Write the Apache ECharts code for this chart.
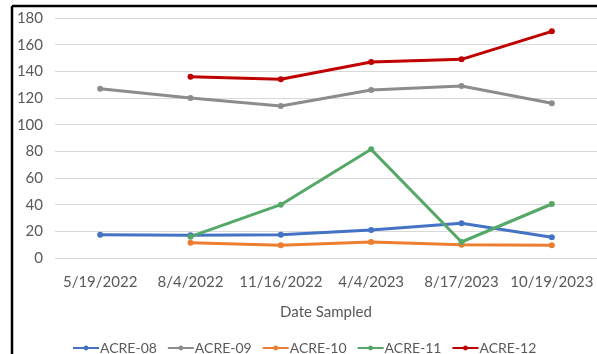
<!DOCTYPE html>
<html>
<head>
<meta charset="utf-8">
<script src="https://cdn.jsdelivr.net/npm/echarts@6/dist/echarts.min.js"></script>
<style>
  html, body { margin: 0; padding: 0; background: #fff; }
  #chart { width: 597px; height: 354px; }
</style>
</head>
<body>
<div id="chart"></div>
<script>
// dates sampled
var dates = ['5/19/2022', '8/4/2022', '11/16/2022', '4/4/2023', '8/17/2023', '10/19/2023'];

// values per well (null = not sampled)
var acre08 = [17.5, 17, 17.5, 21, 26, 15.5];
var acre09 = [127, 120, 114, 126, 129, 116];
var acre10 = [null, 11.5, 9.5, 12, 10, 9.5];
var acre11 = [null, 16, 40, 81.5, 12, 40.5];
var acre12 = [null, 136, 134, 147, 149, 170];

var names = ['ACRE-08', 'ACRE-09', 'ACRE-10', 'ACRE-11', 'ACRE-12'];
var colors = ['#4472C4', '#8C8C8C', '#ED7D31', '#55A868', '#C00000'];
var yTicks = [0, 180, 20];

var font = 'Lato, "Open Sans", sans-serif';

var myChart = echarts.init(document.getElementById('chart'));

function mkSeries(name, data, i) {
  return {
    name: name,
    type: 'line',
    data: data,
    symbol: 'circle',
    symbolSize: 6,
    connectNulls: false,
    lineStyle: { width: 3, color: colors[i] },
    itemStyle: { color: colors[i] }
  };
}

var option = {
  animation: false,
  textStyle: { fontFamily: font },
  grid: { left: 55, right: -9, top: 18, bottom: 96 },
  legend: {
    bottom: -6,
    left: 67,
    itemWidth: 26,
    itemHeight: 6,
    itemGap: 10,
    textStyle: { fontSize: 14, color: '#595959', fontFamily: font, padding: [0, 0, 0, -4] },
    data: names
  },
  xAxis: {
    type: 'category',
    data: dates,
    name: 'Date Sampled',
    nameLocation: 'middle',
    nameGap: 47,
    nameTextStyle: { fontSize: 15, color: '#595959' },
    axisLine: { show: false },
    axisTick: { show: false },
    axisLabel: { fontSize: 15, color: '#595959', margin: 17, interval: 0 }
  },
  yAxis: {
    type: 'value',
    min: yTicks[0],
    max: yTicks[1],
    interval: yTicks[2],
    axisLine: { show: false },
    axisTick: { show: false },
    axisLabel: { fontSize: 15, color: '#595959', margin: 12, align: 'right' },
    splitLine: { lineStyle: { color: '#D9D9D9', width: 1 } }
  },
  graphic: [
    { type: 'line', shape: { x1: 12, y1: 6, x2: 597, y2: 6 }, style: { stroke: '#000', lineWidth: 2.5 } },
    { type: 'line', shape: { x1: 12, y1: 6, x2: 12, y2: 354 }, style: { stroke: '#000', lineWidth: 2.5 } }
  ],
  series: [
    mkSeries(names[0], acre08, 0),
    mkSeries(names[1], acre09, 1),
    mkSeries(names[2], acre10, 2),
    mkSeries(names[3], acre11, 3),
    mkSeries(names[4], acre12, 4)
  ]
};

myChart.setOption(option);
</script>
</body>
</html>
